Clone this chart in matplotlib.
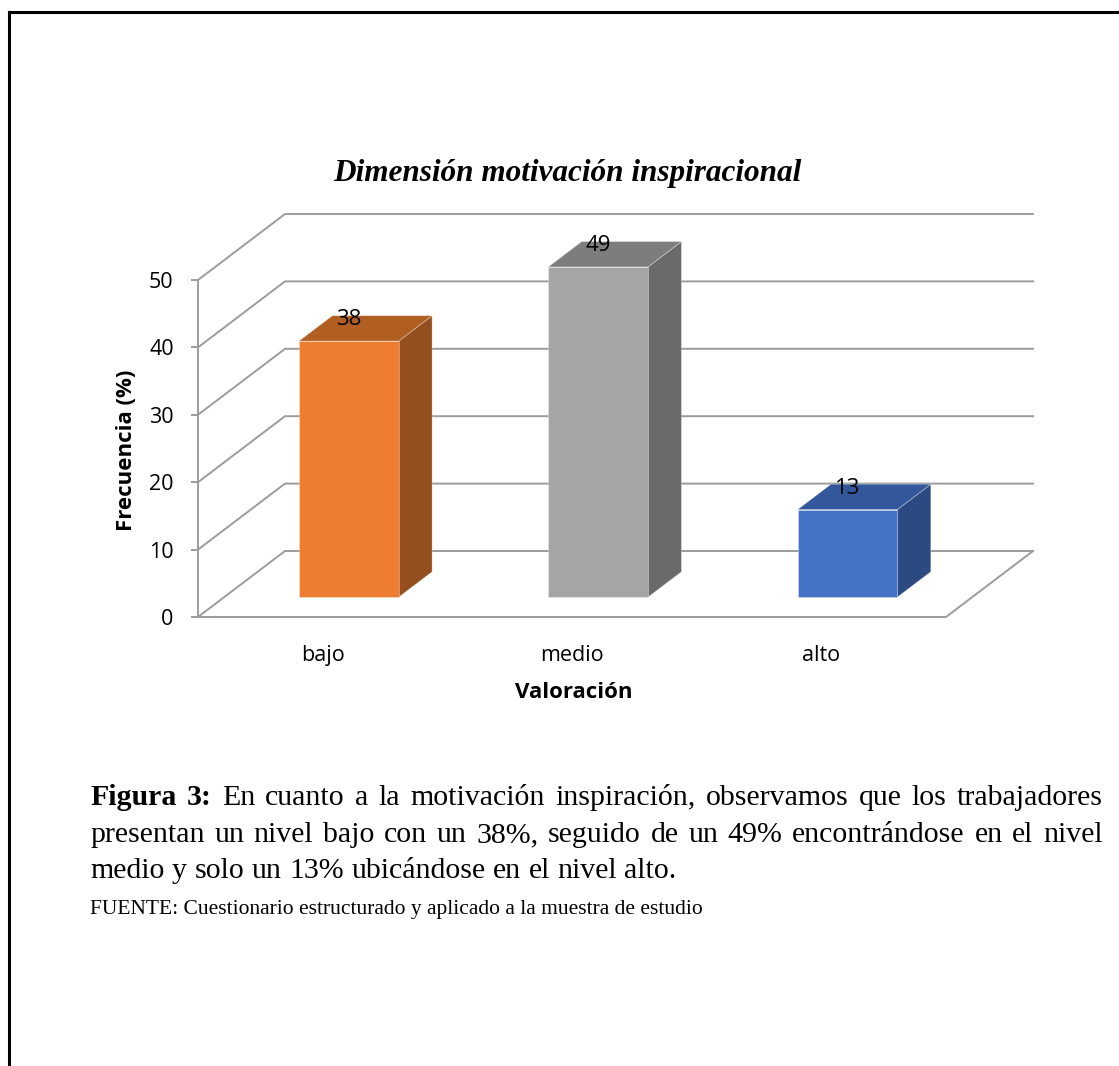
import numpy as np
import matplotlib
matplotlib.use("Agg")
import matplotlib.pyplot as plt
from matplotlib.patches import Polygon
from matplotlib.lines import Line2D
from matplotlib.transforms import IdentityTransform

# ---- data ----
categories = ["bajo", "medio", "alto"]
values = [38, 49, 13]
y_ticks = [0, 10, 20, 30, 40, 50]

title = "Dimensión motivación inspiracional"
y_label = "Frecuencia (%)"
x_label = "Valoración"
caption_lines = [
    "En cuanto a la motivación inspiración, observamos que los trabajadores",
    "presentan un nivel bajo con un 38%, seguido de un 49% encontrándose en el nivel",
    "medio y solo un 13% ubicándose en el nivel alto.",
]
caption_lead = "Figura 3:"
source_text = "FUENTE: Cuestionario estructurado y aplicado a la muestra de estudio"

# face colours: (front, top, side)
bar_colors = [
    ("#ED7D31", "#B15E23", "#954F1E"),
    ("#A5A5A5", "#7D7D7D", "#6A6A6A"),
    ("#4472C4", "#32579A", "#2B4A82"),
]

W, H = 1119, 1066
fig = plt.figure(figsize=(W / 100, H / 100), dpi=100)
fig.patch.set_facecolor("white")

SANS = ["Open Sans", "DejaVu Sans"]
SERIF = ["Liberation Serif", "DejaVu Serif"]

# front plane of the 3-D box
ax = fig.add_axes([198 / W, (H - 617) / H, 748 / W, 337 / H])
ax.set_xlim(0, len(categories))
ax.set_ylim(0, max(y_ticks))
ax.patch.set_visible(False)
for s in ["top", "right", "bottom"]:
    ax.spines[s].set_visible(False)
GRID = "#9C9C9C"
ax.spines["left"].set_color(GRID)
ax.spines["left"].set_linewidth(1.4)
ax.set_yticks(y_ticks)
ax.set_yticklabels([str(t) for t in y_ticks], fontfamily=SANS, fontsize=15.5)
ax.tick_params(axis="y", length=5, width=1.4, color=GRID, pad=12.5)
ax.set_xticks(np.arange(len(categories)) + 0.5)
ax.set_xticklabels(categories, fontfamily=SANS, fontsize=15.5)
ax.tick_params(axis="x", length=0, pad=20)

DEPTH = np.array([87.0, 66.0])  # receding direction in pixels


def P(x, y, d):
    return ax.transData.transform((x, y)) + d * DEPTH


ident = IdentityTransform()


def seg(points, **kw):
    pts = np.array(points)
    fig.add_artist(Line2D(pts[:, 0], pts[:, 1], transform=ident, **kw))


n = len(categories)
for v in y_ticks:
    # side wall and back wall gridlines
    seg([P(0, v, 0), P(0, v, 1), P(n, v, 1)], color=GRID, lw=1.4, zorder=1)
# floor
seg([P(0, 0, 0), P(n, 0, 0), P(n, 0, 1)], color=GRID, lw=1.4, zorder=1)

# bars
BAR_W = 0.40
D0, D1 = 0.30, 0.685
for i, (v, (cf, ct, cs)) in enumerate(zip(values, bar_colors)):
    x0 = i + 0.5 - BAR_W / 2
    x1 = i + 0.5 + BAR_W / 2
    side = [P(x1, 0, D0), P(x1, 0, D1), P(x1, v, D1), P(x1, v, D0)]
    top = [P(x0, v, D0), P(x1, v, D0), P(x1, v, D1), P(x0, v, D1)]
    front = [P(x0, 0, D0), P(x1, 0, D0), P(x1, v, D0), P(x0, v, D0)]
    for face, col in ((side, cs), (top, ct), (front, cf)):
        fig.add_artist(Polygon(face, closed=True, facecolor=col,
                               edgecolor=(1, 1, 1, 0.35), lw=0.6,
                               transform=ident, zorder=3))
    tx, ty = P(i + 0.5, v, D0)
    fig.text(tx, ty + 16, str(v), transform=ident, ha="center",
             va="baseline", fontfamily=SANS, fontsize=16, color="black",
             zorder=5)

# titles
fig.text(567 / W, 1 - 181 / H, title, ha="center", va="baseline",
         fontfamily=SERIF, fontsize=22.5, fontweight="bold", style="italic")
fig.text(127 / W, 1 - 450 / H, y_label, rotation=90, ha="center",
         va="center", fontfamily=SANS, fontsize=16, fontweight="bold")
fig.text(574 / W, 1 - 692 / H, x_label, ha="center", va="center",
         fontfamily=SANS, fontsize=16, fontweight="bold")

# caption, justified between two margins
renderer = fig.canvas.get_renderer()
LEFT, RIGHT = 90, 1103
CAP_SIZE = 21.5


def put_line(tokens, base_y, justify):
    texts = []
    for word, weight in tokens:
        t = fig.text(0, 1 - base_y / H, word, ha="left", va="baseline",
                     fontfamily=SERIF, fontsize=CAP_SIZE, fontweight=weight)
        texts.append(t)
    widths = [t.get_window_extent(renderer).width for t in texts]
    sp = fig.text(0, 0, "a a", fontfamily=SERIF, fontsize=CAP_SIZE)
    sp2 = fig.text(0, 0, "aa", fontfamily=SERIF, fontsize=CAP_SIZE)
    space = sp.get_window_extent(renderer).width - sp2.get_window_extent(renderer).width
    sp.remove()
    sp2.remove()
    if justify and len(texts) > 1:
        gap = (RIGHT - LEFT - sum(widths)) / (len(texts) - 1)
    else:
        gap = space
    x = LEFT
    for t, w in zip(texts, widths):
        t.set_x(x / W)
        x += w + gap


baselines = [805, 842, 878]
for k, (line, by) in enumerate(zip(caption_lines, baselines)):
    toks = [(w, "normal") for w in line.split()]
    if k == 0:
        toks = [(w, "bold") for w in caption_lead.split()] + toks
    put_line(toks, by, justify=(k < len(caption_lines) - 1))

fig.text(LEFT / W, 1 - 914 / H, source_text, ha="left", va="baseline",
         fontfamily=SERIF, fontsize=15.5)

# page frame
fig.add_artist(Line2D([8.5 / W, 8.5 / W], [0, 1 - 12 / H], color="black",
                      lw=2.2, transform=fig.transFigure))
fig.add_artist(Line2D([8.5 / W, 1], [1 - 12 / H, 1 - 12 / H], color="black",
                      lw=2.2, transform=fig.transFigure))

fig.savefig("out.png", dpi=100)
